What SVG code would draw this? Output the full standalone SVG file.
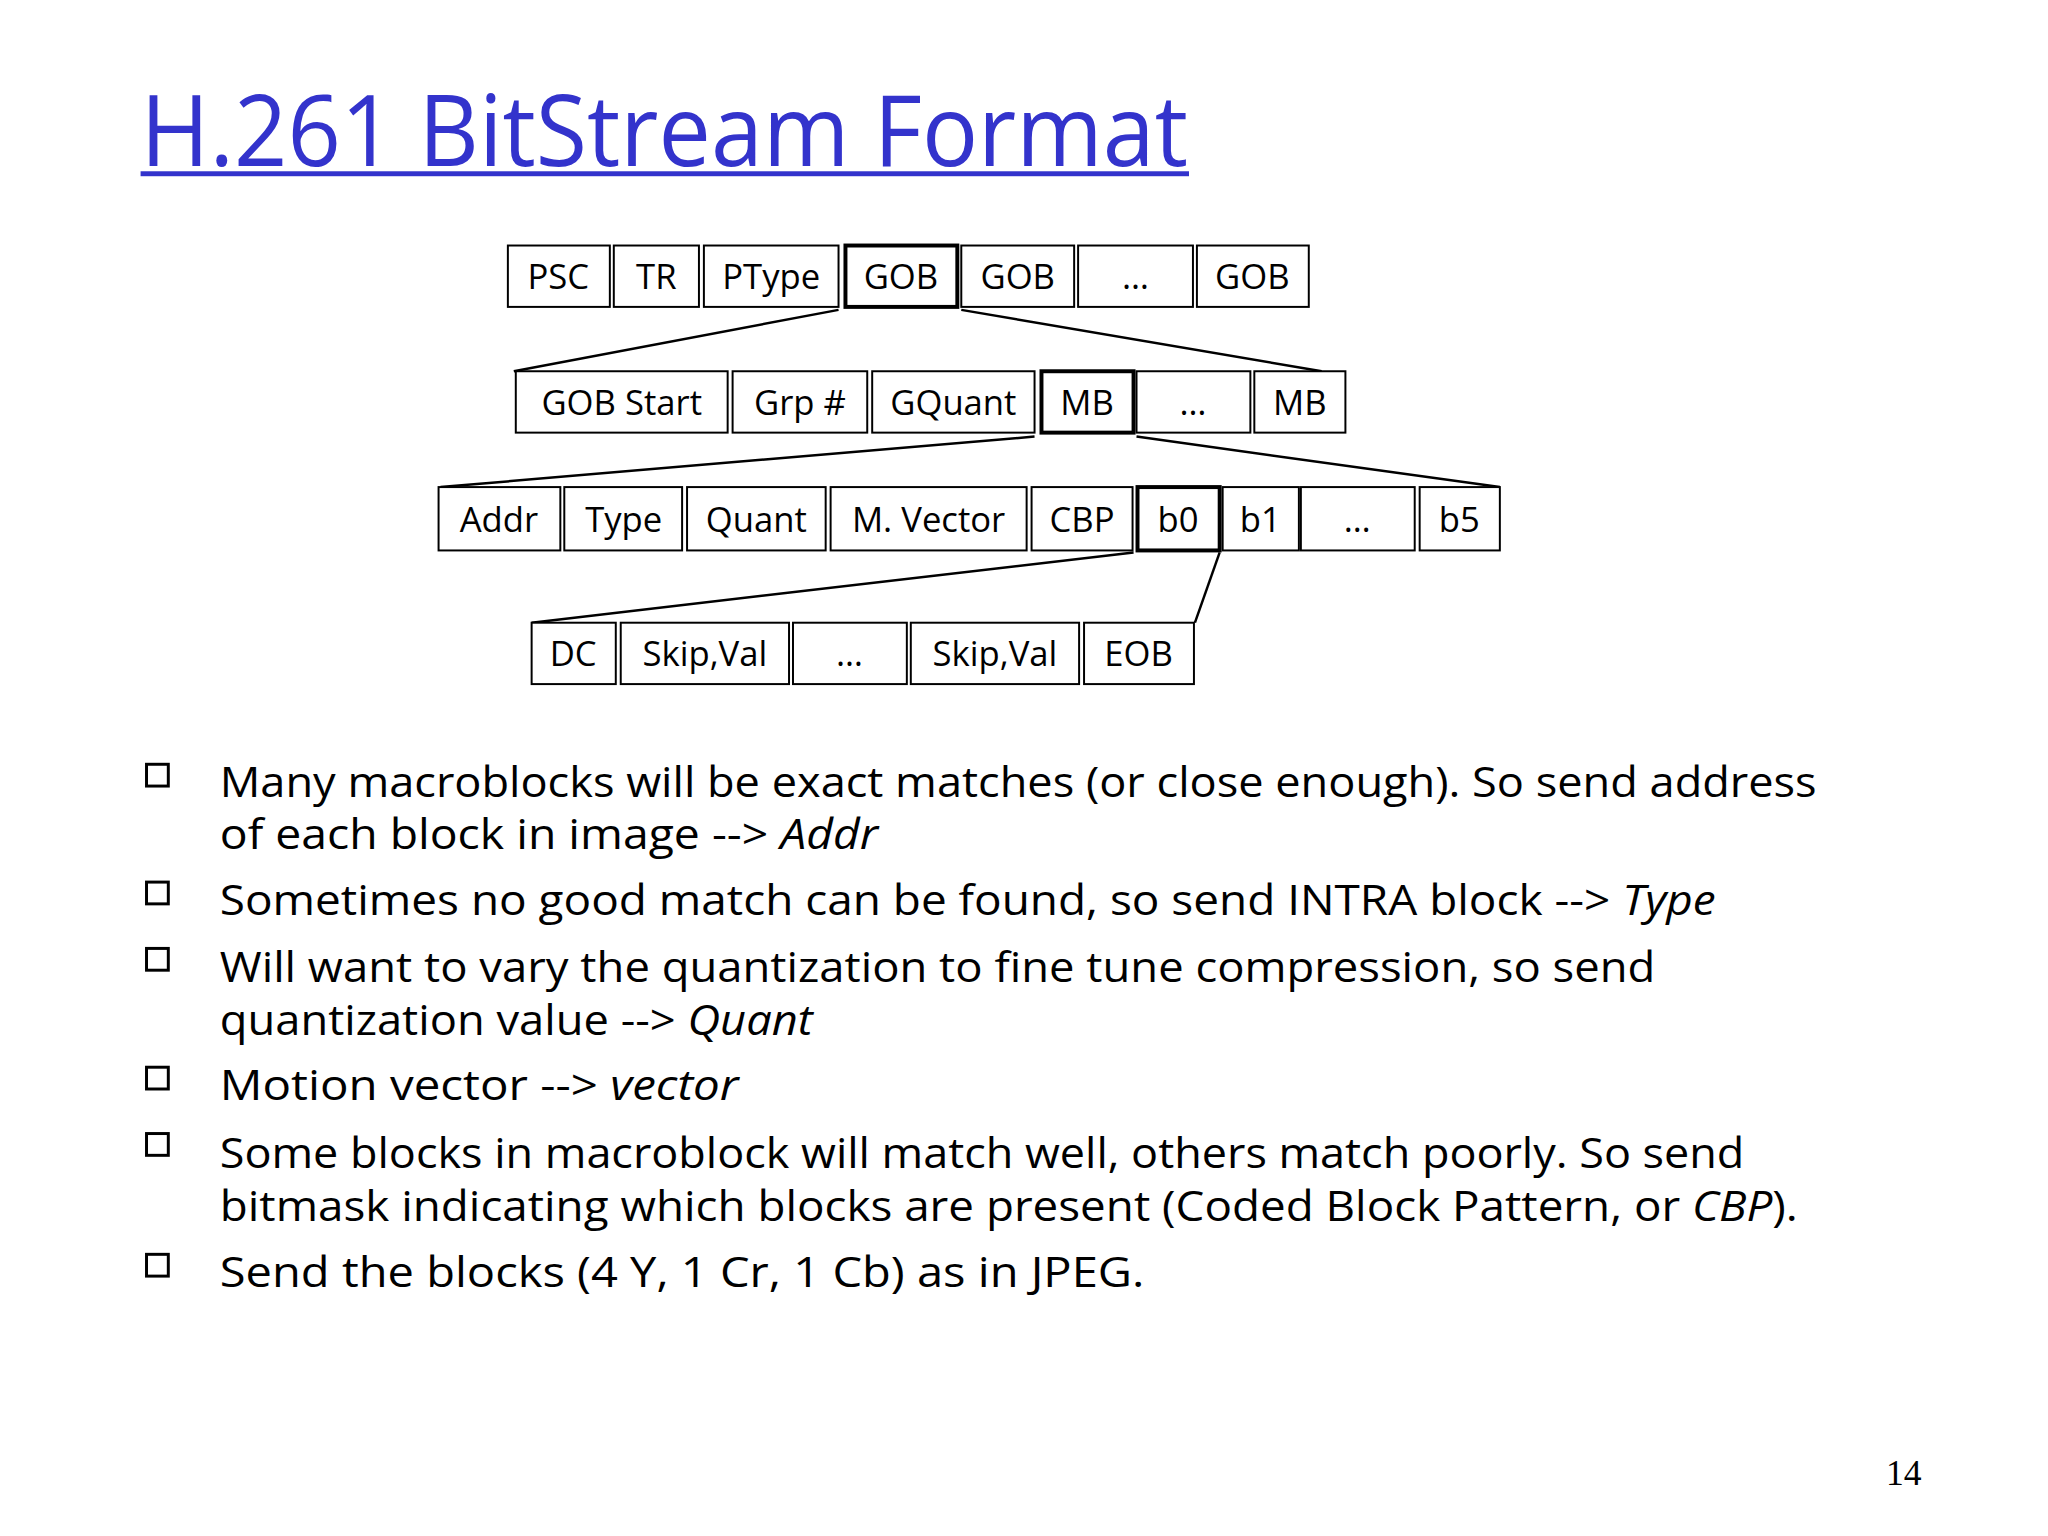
<svg xmlns="http://www.w3.org/2000/svg" width="2048" height="1536" viewBox="0 0 2048 1536">
<style>
.b{fill:#fff;stroke:#000;stroke-width:2}
.k{fill:#fff;stroke:#000;stroke-width:4}
.t{font-family:"Open Sans",sans-serif;font-size:35px;text-anchor:middle;fill:#000}
.p{font-family:"Open Sans",sans-serif;font-size:43px;fill:#000}
.sq{fill:#fff;stroke:#000;stroke-width:3}
line{stroke:#000;stroke-width:2.5}
</style>
<rect width="2048" height="1536" fill="#fff"/>
<g transform="scale(0.99)">
<text x="142" y="168" font-family="Open Sans, sans-serif" font-size="100" fill="#3333cc" textLength="1058" lengthAdjust="spacingAndGlyphs">H.261 BitStream Format</text>
<rect x="142" y="173" width="1059" height="5" fill="#3333cc"/>
<g id="connectors">
<line x1="847" y1="313" x2="519" y2="375"/>
<line x1="971" y1="313" x2="1335" y2="375"/>
<line x1="1045" y1="441" x2="445" y2="492"/>
<line x1="1148" y1="441" x2="1515" y2="492"/>
<line x1="1145" y1="558" x2="537" y2="629"/>
<line x1="1232" y1="558" x2="1207" y2="629"/>
</g>
<g id="row1">
<rect class="b" x="513" y="248" width="103" height="62"/><text class="t" x="564" y="292">PSC</text>
<rect class="b" x="620" y="248" width="86" height="62"/><text class="t" x="663" y="292">TR</text>
<rect class="b" x="711" y="248" width="136" height="62"/><text class="t" x="779" y="292">PType</text>
<rect class="k" x="854" y="248" width="113" height="62"/><text class="t" x="910" y="292">GOB</text>
<rect class="b" x="971" y="248" width="114" height="62"/><text class="t" x="1028" y="292">GOB</text>
<rect class="b" x="1089" y="248" width="116" height="62"/><text class="t" x="1147" y="292">…</text>
<rect class="b" x="1209" y="248" width="113" height="62"/><text class="t" x="1265" y="292">GOB</text>
</g>
<g id="row2">
<rect class="b" x="521" y="375" width="214" height="62"/><text class="t" x="628" y="419">GOB Start</text>
<rect class="b" x="740" y="375" width="136" height="62"/><text class="t" x="808" y="419">Grp #</text>
<rect class="b" x="881" y="375" width="164" height="62"/><text class="t" x="963" y="419">GQuant</text>
<rect class="k" x="1052" y="375" width="93" height="62"/><text class="t" x="1098" y="419">MB</text>
<rect class="b" x="1148" y="375" width="115" height="62"/><text class="t" x="1205" y="419">…</text>
<rect class="b" x="1267" y="375" width="92" height="62"/><text class="t" x="1313" y="419">MB</text>
</g>
<g id="row3">
<rect class="b" x="443" y="492" width="123" height="64"/><text class="t" x="504" y="537">Addr</text>
<rect class="b" x="570" y="492" width="119" height="64"/><text class="t" x="630" y="537">Type</text>
<rect class="b" x="694" y="492" width="140" height="64"/><text class="t" x="764" y="537">Quant</text>
<rect class="b" x="839" y="492" width="198" height="64"/><text class="t" x="938" y="537">M. Vector</text>
<rect class="b" x="1042" y="492" width="102" height="64"/><text class="t" x="1093" y="537">CBP</text>
<rect class="k" x="1149" y="492" width="83" height="64"/><text class="t" x="1190" y="537">b0</text>
<rect class="b" x="1235" y="492" width="77" height="64"/><text class="t" x="1273" y="537">b1</text>
<rect class="b" x="1314" y="492" width="115" height="64"/><text class="t" x="1371" y="537">…</text>
<rect class="b" x="1434" y="492" width="81" height="64"/><text class="t" x="1474" y="537">b5</text>
</g>
<g id="row4">
<rect class="b" x="537" y="629" width="85" height="62"/><text class="t" x="579" y="673">DC</text>
<rect class="b" x="627" y="629" width="170" height="62"/><text class="t" x="712" y="673">Skip,Val</text>
<rect class="b" x="801" y="629" width="115" height="62"/><text class="t" x="858" y="673">…</text>
<rect class="b" x="920" y="629" width="170" height="62"/><text class="t" x="1005" y="673">Skip,Val</text>
<rect class="b" x="1095" y="629" width="111" height="62"/><text class="t" x="1150" y="673">EOB</text>
</g>
<g id="bullets">
<rect class="sq" x="148" y="772" width="22" height="22"/>
<rect class="sq" x="148" y="891" width="22" height="22"/>
<rect class="sq" x="148" y="958" width="22" height="22"/>
<rect class="sq" x="148" y="1078" width="22" height="22"/>
<rect class="sq" x="148" y="1145" width="22" height="22"/>
<rect class="sq" x="148" y="1267" width="22" height="22"/>
<text class="p" x="222" y="805" textLength="1613" lengthAdjust="spacingAndGlyphs">Many macroblocks will be exact matches (or close enough). So send address</text>
<text class="p" x="222" y="858" textLength="665" lengthAdjust="spacingAndGlyphs">of each block in image --&gt; <tspan font-style="italic">Addr</tspan></text>
<text class="p" x="222" y="924" textLength="1511" lengthAdjust="spacingAndGlyphs">Sometimes no good match can be found, so send INTRA block --&gt; <tspan font-style="italic">Type</tspan></text>
<text class="p" x="222" y="992" textLength="1450" lengthAdjust="spacingAndGlyphs">Will want to vary the quantization to fine tune compression, so send</text>
<text class="p" x="222" y="1045" textLength="599" lengthAdjust="spacingAndGlyphs">quantization value --&gt; <tspan font-style="italic">Quant</tspan></text>
<text class="p" x="222" y="1111" textLength="524" lengthAdjust="spacingAndGlyphs">Motion vector --&gt; <tspan font-style="italic">vector</tspan></text>
<text class="p" x="222" y="1180" textLength="1540" lengthAdjust="spacingAndGlyphs">Some blocks in macroblock will match well, others match poorly. So send</text>
<text class="p" x="222" y="1233" textLength="1594" lengthAdjust="spacingAndGlyphs">bitmask indicating which blocks are present (Coded Block Pattern, or <tspan font-style="italic">CBP</tspan>).</text>
<text class="p" x="222" y="1300" textLength="934" lengthAdjust="spacingAndGlyphs">Send the blocks (4 Y, 1 Cr, 1 Cb) as in JPEG.</text>
</g>
<text x="1905" y="1500" font-family="Liberation Serif, serif" font-size="36" fill="#000">14</text>
</g>
</svg>
